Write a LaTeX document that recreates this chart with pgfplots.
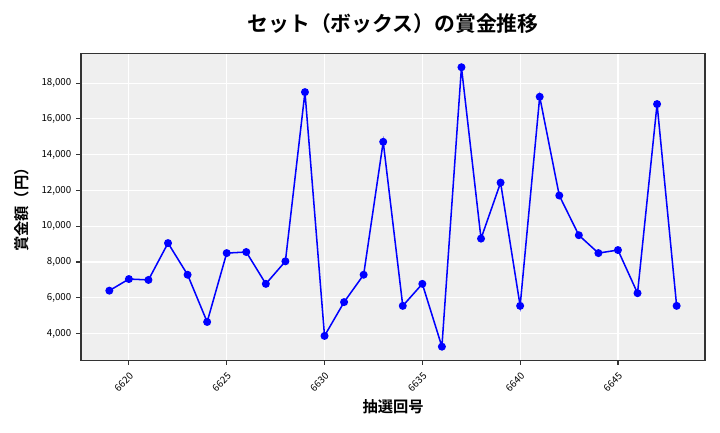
\documentclass[border=0pt]{standalone}
\usepackage{pgfplots}
\pgfplotsset{compat=1.18}
\usepackage{fontspec}
\setmainfont{Noto Sans CJK JP}
\newfontfamily\jpbold{Noto Sans CJK JP Bold}
\definecolor{bgc}{HTML}{EFEFEF}
\definecolor{framec}{HTML}{333333}
\begin{document}
\begin{tikzpicture}
\useasboundingbox (0pt,0pt) rectangle (518.4pt,311.04pt);
\begin{axis}[
  at={(58.3pt,51.8pt)}, anchor=south west,
  scale only axis, width=449.3pt, height=221pt,
  xmin=6617.55, xmax=6649.45, ymin=2520, ymax=19680,
  axis background/.style={fill=bgc},
  axis line style={framec, line width=0.8pt},
  grid=major, major grid style={white, line width=0.8pt},
  tick align=outside, tick pos=left,
  major tick length=3.5pt,
  tick style={framec, line width=0.8pt},
  xtick={6620,6625,...,6645},
  ytick={4000,6000,...,18000},
  /pgf/number format/assume math mode=true,
  yticklabel style={/pgf/number format/1000 sep={,}, font=\fontsize{7}{8}\selectfont},
  xticklabel style={/pgf/number format/1000 sep={}, rotate=45, anchor=north east, font=\fontsize{7}{8}\selectfont},
  scaled y ticks=false,
]
\addplot[color={rgb,255:red,0;green,0;blue,255}, line width=1.1pt, mark=*, mark size=2.3pt, mark options={fill={rgb,255:red,0;green,0;blue,255}, draw={rgb,255:red,0;green,0;blue,255}}] coordinates {
(6619,6400) (6620,7050) (6621,7000) (6622,9060) (6623,7290) (6624,4650)
(6625,8500) (6626,8560) (6627,6780) (6628,8040) (6629,17500) (6630,3870)
(6631,5760) (6632,7290) (6633,14720) (6634,5550) (6635,6780) (6636,3270)
(6637,18890) (6638,9310) (6639,12440) (6640,5550) (6641,17240) (6642,11720)
(6643,9500) (6644,8500) (6645,8670) (6646,6260) (6647,16830) (6648,5550)
};
\end{axis}
\node[font=\jpbold\fontsize{15}{18}\selectfont, anchor=center] at (283pt,293.8pt) {セット（ボックス）の賞金推移};
\node[font=\jpbold\fontsize{11}{13}\selectfont, anchor=center] at (283pt,18pt) {抽選回号};
\node[font=\jpbold\fontsize{11}{13}\selectfont, anchor=center, rotate=90] at (15.5pt,162.7pt) {賞金額（円）};
\end{tikzpicture}
\end{document}
